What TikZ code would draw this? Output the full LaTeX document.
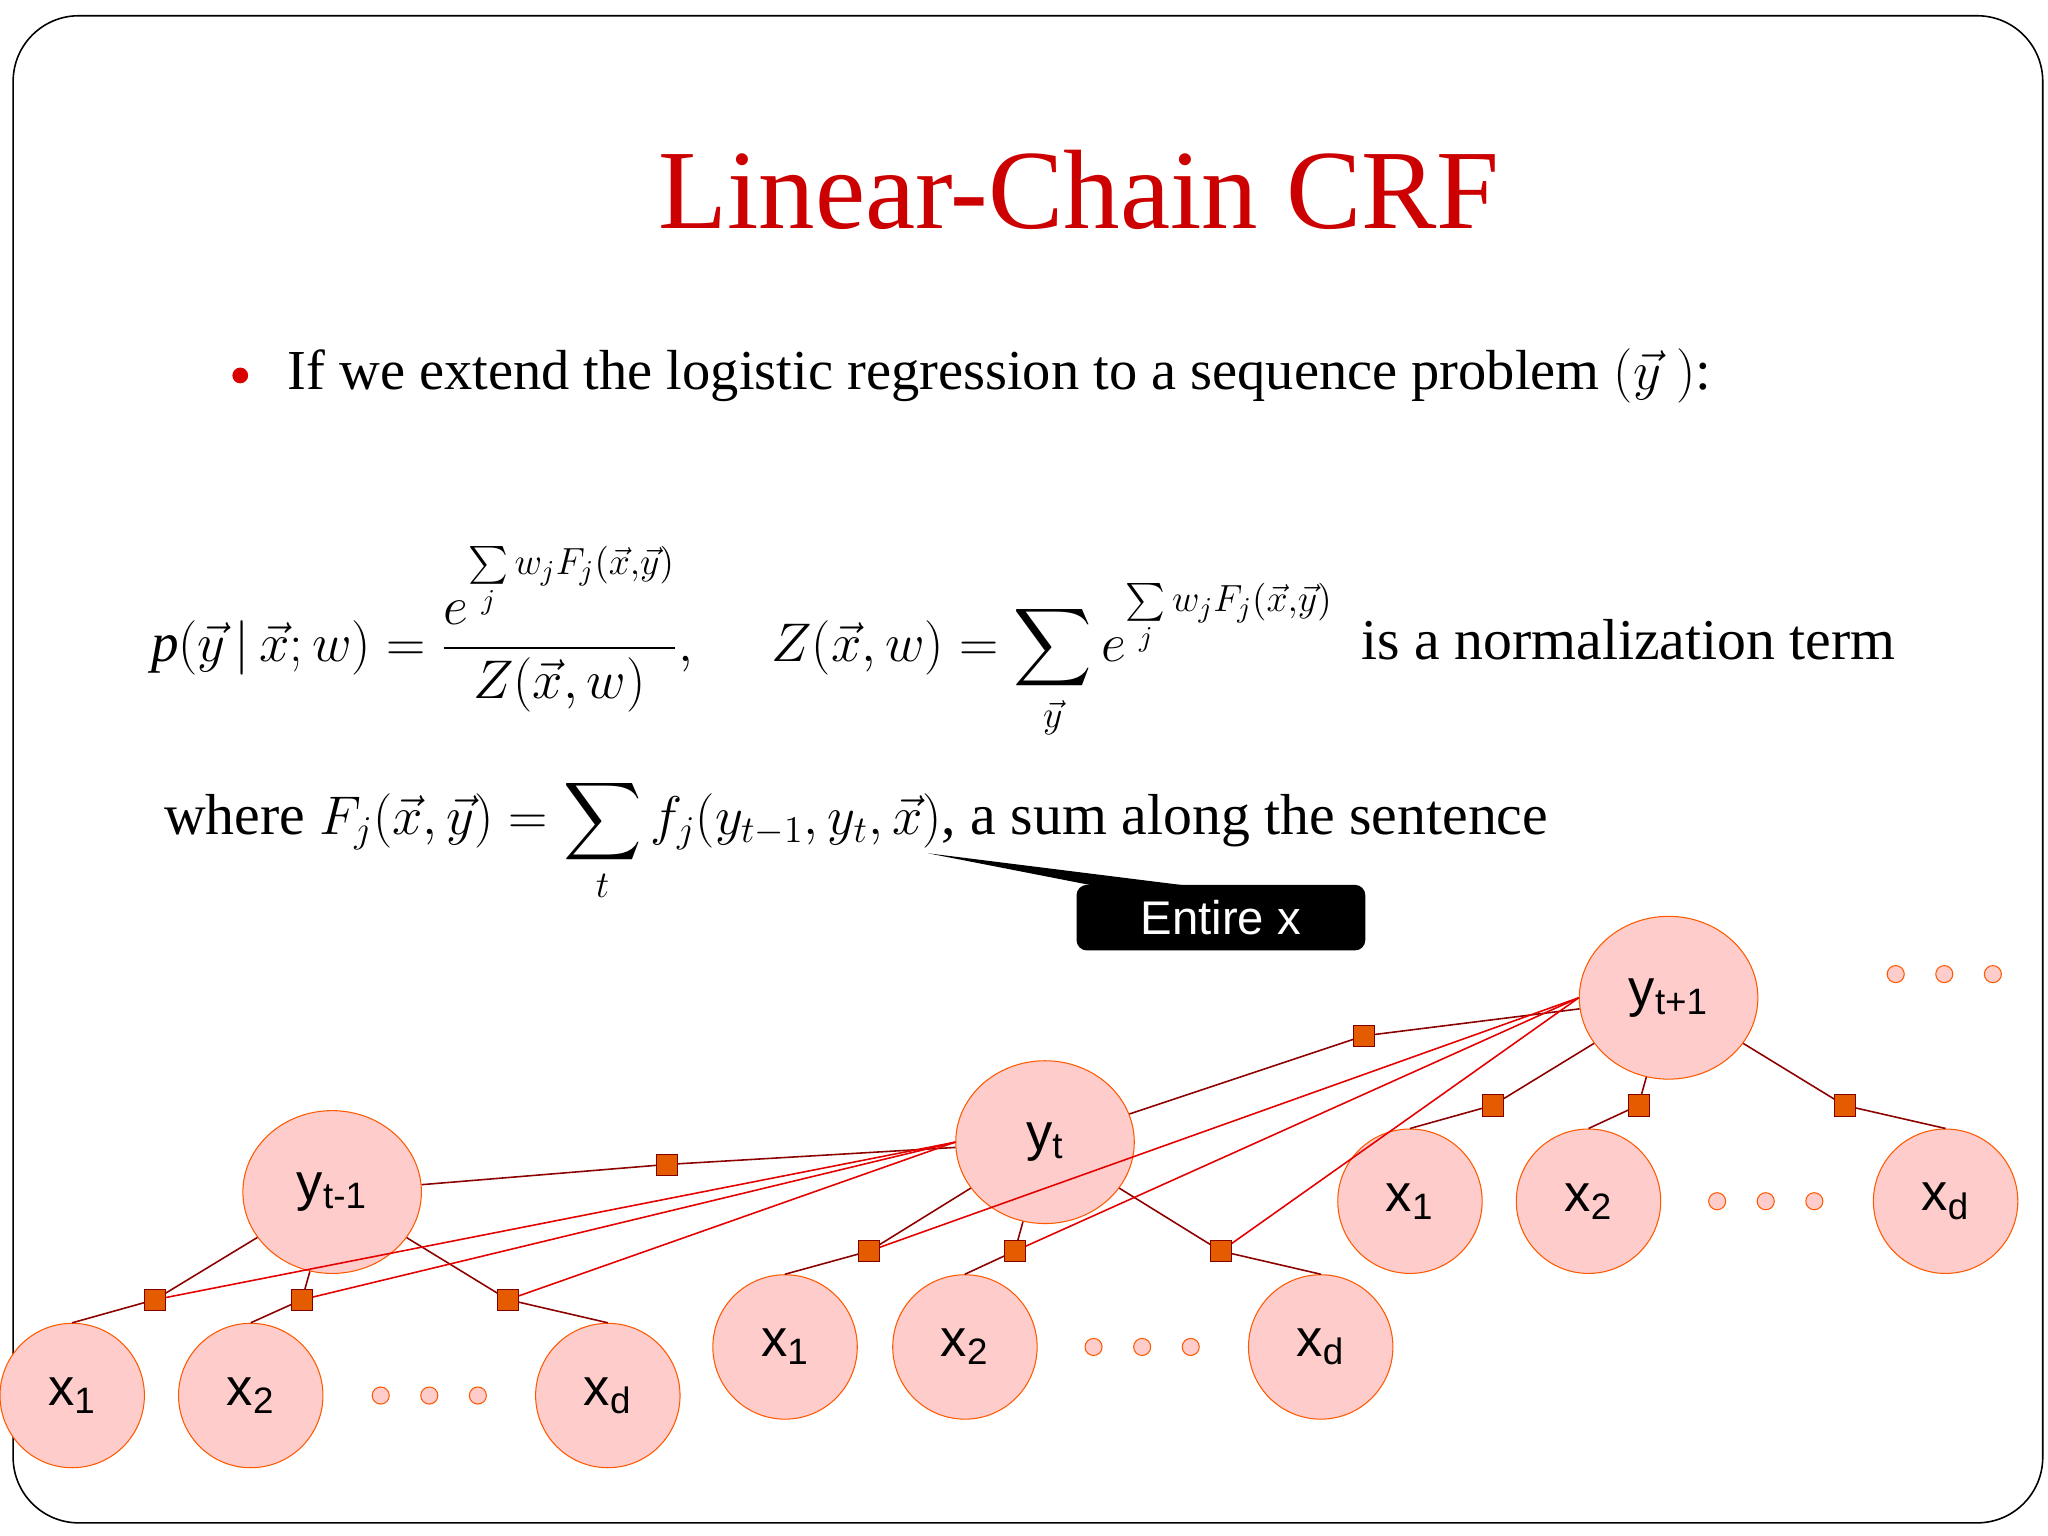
\documentclass[tikz,border=0pt]{standalone}
\usepackage{amsmath}
\usepackage{fontspec}
\setmainfont{Liberation Serif}
\setsansfont{Liberation Sans}
\usetikzlibrary{shapes.geometric}
\begin{document}
\begin{tikzpicture}[x=0.5pt,y=-0.5pt,
 ynode/.style={ellipse,draw=orange!70!red,fill=red!20,minimum width=68pt,minimum height=62pt,inner sep=0pt,font=\sffamily\fontsize{20}{20}\selectfont},
 xnode/.style={circle,draw=orange!70!red,fill=red!20,minimum size=55pt,inner sep=0pt,font=\sffamily\fontsize{20}{20}\selectfont},
 sq/.style={rectangle,fill=orange!80!red!90!black,draw=red!50!black,line width=0.3pt,minimum size=8pt,inner sep=0pt},
 dot/.style={circle,draw=orange!70!red,fill=red!20,minimum size=6.5pt,inner sep=0pt},
 br/.style={draw=red!55!black,line width=0.6pt},
 rd/.style={draw=red!90!black,line width=0.6pt}]
\useasboundingbox (0,0) rectangle (1560,1170);
\draw[line width=0.6pt,rounded corners=25pt] (10,12) rectangle (1556,1160);
\node[text=red!80!black,font=\fontsize{43}{43}\selectfont] (title) at (822,145) {Linear-Chain CRF};
\node[circle,fill=red!85!black,minimum size=6pt,inner sep=0pt] (bul) at (183,286) {};
\node[anchor=west,font=\fontsize{21.5}{22}\selectfont] (t1) at (212,286) {If we extend the logistic regression to a sequence problem $(\vec{y}\;)$:};
\node[anchor=west,font=\fontsize{21}{22}\selectfont] (f1) at (108,490) {$\mathit{p}(\vec{y}\,|\,\vec{x};w)=\dfrac{e^{\sum\limits_j w_jF_j(\vec{x},\vec{y})}}{Z(\vec{x},w)},\quad\ Z(\vec{x},w)=\displaystyle\sum_{\vec{y}} e^{\sum\limits_j w_jF_j(\vec{x},\vec{y})}$};
\node[anchor=west,font=\fontsize{22}{22}\selectfont] (f2) at (1030,487) {is a normalization term};
\node[anchor=west,font=\fontsize{22}{22}\selectfont] (f3) at (118,640) {where $F_j(\vec{x},\vec{y})=\displaystyle\sum_t f_j(y_{t-1},y_t,\vec{x})$, a sum along the sentence};
\coordinate (tip) at (707,650);
\node[fill=black,text=white,rounded corners=4pt,minimum width=110pt,minimum height=25pt,font=\sffamily\fontsize{18}{18}\selectfont] (ent) at (930,699) {Entire x};
\fill (tip) -- (840,676) -- (915,676) -- cycle;
% nodes
\node[ynode] (ya) at (253,908) {y$_{\text{t-1}}$};
\node[ynode] (yb) at (796,870) {y$_{\text{t}}$};
\node[ynode] (yc) at (1271,760) {y$_{\text{t+1}}$};
\foreach \n/\x/\y/\l in {a1/55/1063/1,a2/191/1063/2,ad/463/1063/d,b1/598/1026/1,b2/735/1026/2,bd/1006/1026/d,c1/1074/915/1,c2/1210/915/2,cd/1482/915/d}
  \node[xnode] (x\n) at (\x,\y) {x$_{\text{\l}}$};
\foreach \i/\x/\y in {1/290/1063,2/327/1063,3/364/1063,4/833/1026,5/870/1026,6/907/1026,7/1308/915,8/1345/915,9/1382/915,10/1444/742,11/1481/742,12/1518/742}
  \node[dot] (d\i) at (\x,\y) {};
% factors
\foreach \n/\x/\y in {sa1/118/990,sa2/230/990,sad/387/990,sb1/662/953,sb2/773/953,sbd/930/953,sc1/1137/842,sc2/1248/842,scd/1405/842,sab/508/887,sbc/1039/789}
  \coordinate (\n) at (\x,\y);
\draw[br] (ya) -- (sa1) -- (xa1.north); \draw[br] (ya) -- (sa2) -- (xa2.north); \draw[br] (ya) -- (sad) -- (xad.north);
\draw[br] (yb) -- (sb1) -- (xb1.north); \draw[br] (yb) -- (sb2) -- (xb2.north); \draw[br] (yb) -- (sbd) -- (xbd.north);
\draw[br] (yc) -- (sc1) -- (xc1.north); \draw[br] (yc) -- (sc2) -- (xc2.north); \draw[br] (yc) -- (scd) -- (xcd.north);
\draw[br] (ya) -- (sab) -- (yb); \draw[br] (yb) -- (sbc) -- (yc);
\draw[rd] (yb.west) -- (sa1); \draw[rd] (yb.west) -- (sa2); \draw[rd] (yb.west) -- (sad);
\draw[rd] (yc.west) -- (sb1); \draw[rd] (yc.west) -- (sb2); \draw[rd] (yc.west) -- (sbd);
\foreach \n in {sa1,sa2,sad,sb1,sb2,sbd,sc1,sc2,scd,sab,sbc}
  \node[sq] at (\n) {};
\end{tikzpicture}
\end{document}
